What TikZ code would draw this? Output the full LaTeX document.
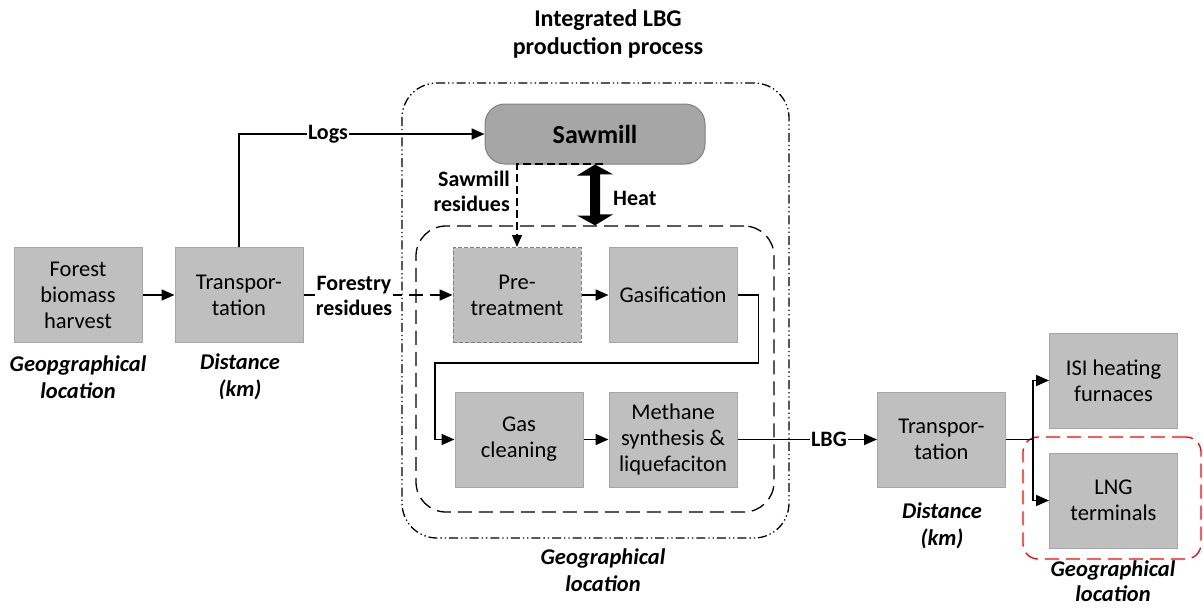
\documentclass[tikz,border=0pt]{standalone}
\usepackage{fontspec}
\setmainfont{Carlito}
\usetikzlibrary{arrows.meta,calc}
\definecolor{boxfill}{HTML}{BFBFBF}
\definecolor{boxline}{HTML}{A6A6A6}
\definecolor{sawfill}{HTML}{A6A6A6}
\definecolor{sawline}{HTML}{808080}
\begin{document}
\begin{tikzpicture}[x=1pt,y=-1pt,
  proc/.style={draw=boxline,fill=boxfill,line width=1pt,minimum width=128pt,minimum height=95pt,
    inner sep=0pt,align=center,font=\fontsize{22.5}{26}\selectfont},
  lab/.style={font=\fontsize{22}{25}\selectfont\bfseries,align=center,inner sep=1pt},
  note/.style={font=\fontsize{22.5}{27}\selectfont\bfseries\itshape,align=center,inner sep=0pt},
  arr/.style={line width=1.6pt,-{Triangle[length=13pt,width=11pt]}},
  ln/.style={line width=1.6pt},
  longdash/.style={dash pattern=on 14pt off 7pt}]
\useasboundingbox (0,0) rectangle (1203,608);

% containers
\node[draw,line width=1.3pt,rounded corners=35pt,minimum width=387pt,minimum height=455pt,
  dash pattern=on 9pt off 3pt on 1.3pt off 3pt on 1.3pt off 3pt] (outer) at (595.5,310.5) {};
\node[draw,line width=1.3pt,rounded corners=30pt,minimum width=358pt,minimum height=286pt,longdash] (inner) at (595,369) {};
\node[draw=red,line width=1.3pt,rounded corners=15pt,minimum width=178pt,minimum height=122pt,longdash] (redbox) at (1112,498) {};

% title
\node[font=\fontsize{24}{28}\selectfont\bfseries,align=center] (title) at (608,34) {Integrated LBG\\production process};

% process boxes
\node[proc] (forest) at (78,295) {Forest\\biomass\\harvest};
\node[proc] (t1) at (239,295) {Transpor-\\tation};
\node[proc,draw=gray,dash pattern=on 4pt off 2pt] (pre) at (517,295) {Pre-\\treatment};
\node[proc] (gasif) at (673,295) {Gasification};
\node[proc] (clean) at (519,439.5) {Gas\\cleaning};
\node[proc] (meth) at (673,439.5) {Methane\\synthesis \&\\liquefaciton};
\node[proc] (t2) at (941.5,439.5) {Transpor-\\tation};
\node[proc] (isi) at (1113.5,380.5) {ISI heating\\furnaces};
\node[proc] (lng) at (1113.5,500.5) {LNG\\terminals};
\node[draw=sawline,fill=sawfill,line width=1pt,rounded corners=20pt,minimum width=220pt,minimum height=60pt,
  font=\fontsize{26}{28}\selectfont\bfseries] (saw) at (595,134) {Sawmill};

% notes
\node[note] (n1) at (78,377) {Geopgraphical\\location};
\node[note] (n2) at (240,377) {Distance\\(km)};
\node[note] (n3) at (603,570) {Geographical\\location};
\node[note] (n4) at (942,526) {Distance\\(km)};
\node[note,font=\fontsize{22.5}{25}\selectfont\bfseries\itshape] (n5) at (1113,581) {Geographical\\location};

% connectors
\draw[arr] (forest.east) -- (t1.west);
\draw[arr] (t1.north) |- (saw.west);
\node[lab,fill=white] (logs) at (328,134) {Logs};

\draw[arr,longdash] (t1.east) -- (pre.west);
\node[lab,fill=white] (forres) at (354,296) {Forestry\\residues};

\coordinate (srs) at (603,164);
\draw[line width=1.3pt,dash pattern=on 8pt off 4pt] (srs) -- (517,164) -- ($(pre.north)+(0,-12)$);
\draw[line width=1.3pt,-{Triangle[length=12pt,width=10pt]}] ($(pre.north)+(0,-12)$) -- (pre.north);
\node[lab,align=right,anchor=east] (srlab) at (511,191) {Sawmill\\residues};

% heat double arrow
\fill (saw.south) -- ++(-18,11) -- ++(13,0) -- ++(0,40) -- ++(-13,0) -- (inner.north) -- ++(18,-11) -- ++(-13,0) -- ++(0,-40) -- ++(13,0) -- cycle;
\node[lab,anchor=west] (heat) at (612,198) {Heat};

\draw[arr] (pre.east) -- (gasif.west);
\draw[arr] (gasif.east) -- ++(21,0) |- (435,363) |- (clean.west);
\draw[arr] (clean.east) -- (meth.west);
\draw[arr] (meth.east) -- (t2.west);
\node[lab,fill=white] (lbg) at (829,439.5) {LBG};

\coordinate (split) at (1033,439.5);
\draw[ln] (t2.east) -- (split);
\draw[arr] (split) |- (isi.west);
\draw[arr] (split) |- (lng.west);
\end{tikzpicture}
\end{document}
